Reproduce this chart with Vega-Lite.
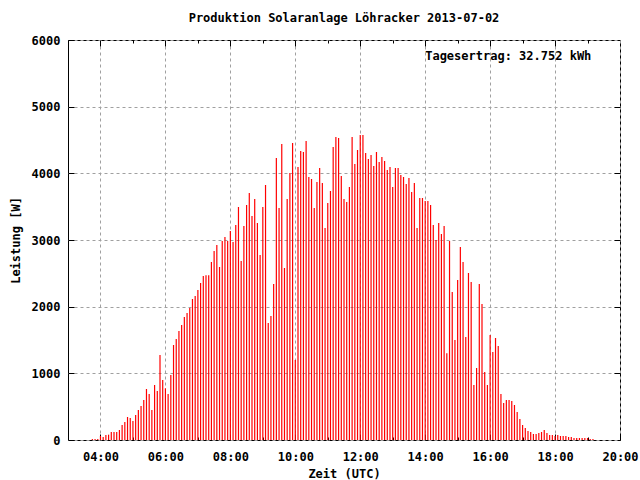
{
  "$schema": "https://vega.github.io/schema/vega-lite/v6.json",
  "width": 552,
  "height": 400,
  "autosize": {"type": "none"},
  "padding": {"left": 68, "top": 40, "right": 20, "bottom": 40},
  "background": "white",
  "title": {"text": "Produktion Solaranlage Löhracker 2013-07-02", "font": "DejaVu Sans Mono", "fontSize": 12, "fontWeight": "bold", "color": "#000", "offset": 9},
  "config": {
    "view": {"stroke": "#000", "strokeWidth": 1},
    "axis": {"labelFont": "DejaVu Sans Mono", "labelFontSize": 12, "labelFontWeight": "bold", "labelColor": "#000", "titleFont": "DejaVu Sans Mono", "titleFontSize": 12, "titleFontWeight": "bold", "titleColor": "#000", "tickColor": "#000", "tickWidth": 1, "domain": false, "gridColor": "#a0a0a0", "gridDash": [3, 3], "gridOpacity": 1, "gridWidth": 1}
  },
  "datasets": {
    "power": [
      {"t": "2013-07-02T03:45", "w": 15}, {"t": "2013-07-02T03:50", "w": 15}, {"t": "2013-07-02T03:55", "w": 15},
      {"t": "2013-07-02T04:00", "w": 60}, {"t": "2013-07-02T04:05", "w": 45}, {"t": "2013-07-02T04:10", "w": 75},
      {"t": "2013-07-02T04:15", "w": 80}, {"t": "2013-07-02T04:20", "w": 120}, {"t": "2013-07-02T04:25", "w": 120},
      {"t": "2013-07-02T04:30", "w": 120}, {"t": "2013-07-02T04:35", "w": 150}, {"t": "2013-07-02T04:40", "w": 225},
      {"t": "2013-07-02T04:45", "w": 270}, {"t": "2013-07-02T04:50", "w": 345}, {"t": "2013-07-02T04:55", "w": 330},
      {"t": "2013-07-02T05:00", "w": 285}, {"t": "2013-07-02T05:05", "w": 375}, {"t": "2013-07-02T05:10", "w": 450},
      {"t": "2013-07-02T05:15", "w": 510}, {"t": "2013-07-02T05:20", "w": 600}, {"t": "2013-07-02T05:25", "w": 765},
      {"t": "2013-07-02T05:30", "w": 690}, {"t": "2013-07-02T05:35", "w": 450}, {"t": "2013-07-02T05:40", "w": 825},
      {"t": "2013-07-02T05:45", "w": 735}, {"t": "2013-07-02T05:50", "w": 1275}, {"t": "2013-07-02T05:55", "w": 900},
      {"t": "2013-07-02T06:00", "w": 775}, {"t": "2013-07-02T06:05", "w": 690}, {"t": "2013-07-02T06:10", "w": 975},
      {"t": "2013-07-02T06:15", "w": 1425}, {"t": "2013-07-02T06:20", "w": 1515}, {"t": "2013-07-02T06:25", "w": 1635},
      {"t": "2013-07-02T06:30", "w": 1725}, {"t": "2013-07-02T06:35", "w": 1845}, {"t": "2013-07-02T06:40", "w": 1905},
      {"t": "2013-07-02T06:45", "w": 1980}, {"t": "2013-07-02T06:50", "w": 2115}, {"t": "2013-07-02T06:55", "w": 2160},
      {"t": "2013-07-02T07:00", "w": 2250}, {"t": "2013-07-02T07:05", "w": 2355}, {"t": "2013-07-02T07:10", "w": 2460},
      {"t": "2013-07-02T07:15", "w": 2470}, {"t": "2013-07-02T07:20", "w": 2470}, {"t": "2013-07-02T07:25", "w": 2670},
      {"t": "2013-07-02T07:30", "w": 2835}, {"t": "2013-07-02T07:35", "w": 2925}, {"t": "2013-07-02T07:40", "w": 2595},
      {"t": "2013-07-02T07:45", "w": 2985}, {"t": "2013-07-02T07:50", "w": 3045}, {"t": "2013-07-02T07:55", "w": 2985},
      {"t": "2013-07-02T08:00", "w": 3135}, {"t": "2013-07-02T08:05", "w": 2970}, {"t": "2013-07-02T08:10", "w": 3225},
      {"t": "2013-07-02T08:15", "w": 3495}, {"t": "2013-07-02T08:20", "w": 2685}, {"t": "2013-07-02T08:25", "w": 3210},
      {"t": "2013-07-02T08:30", "w": 3525}, {"t": "2013-07-02T08:35", "w": 3705}, {"t": "2013-07-02T08:40", "w": 3360},
      {"t": "2013-07-02T08:45", "w": 3615}, {"t": "2013-07-02T08:50", "w": 3255}, {"t": "2013-07-02T08:55", "w": 2775},
      {"t": "2013-07-02T09:00", "w": 3495}, {"t": "2013-07-02T09:05", "w": 3825}, {"t": "2013-07-02T09:10", "w": 1755},
      {"t": "2013-07-02T09:15", "w": 1860}, {"t": "2013-07-02T09:20", "w": 2340}, {"t": "2013-07-02T09:25", "w": 4230},
      {"t": "2013-07-02T09:30", "w": 3480}, {"t": "2013-07-02T09:35", "w": 4440}, {"t": "2013-07-02T09:40", "w": 2580},
      {"t": "2013-07-02T09:45", "w": 3615}, {"t": "2013-07-02T09:50", "w": 4005}, {"t": "2013-07-02T09:55", "w": 4455},
      {"t": "2013-07-02T10:00", "w": 1200}, {"t": "2013-07-02T10:05", "w": 4095}, {"t": "2013-07-02T10:10", "w": 4335},
      {"t": "2013-07-02T10:15", "w": 4320}, {"t": "2013-07-02T10:20", "w": 4485}, {"t": "2013-07-02T10:25", "w": 3945},
      {"t": "2013-07-02T10:30", "w": 3915}, {"t": "2013-07-02T10:35", "w": 3480}, {"t": "2013-07-02T10:40", "w": 3870},
      {"t": "2013-07-02T10:45", "w": 4080}, {"t": "2013-07-02T10:50", "w": 3855}, {"t": "2013-07-02T10:55", "w": 3180},
      {"t": "2013-07-02T11:00", "w": 3555}, {"t": "2013-07-02T11:05", "w": 3735}, {"t": "2013-07-02T11:10", "w": 4395},
      {"t": "2013-07-02T11:15", "w": 4545}, {"t": "2013-07-02T11:20", "w": 4530}, {"t": "2013-07-02T11:25", "w": 3960},
      {"t": "2013-07-02T11:30", "w": 3615}, {"t": "2013-07-02T11:35", "w": 3570}, {"t": "2013-07-02T11:40", "w": 3795},
      {"t": "2013-07-02T11:45", "w": 4545}, {"t": "2013-07-02T11:50", "w": 4140}, {"t": "2013-07-02T11:55", "w": 4350},
      {"t": "2013-07-02T12:00", "w": 4575}, {"t": "2013-07-02T12:05", "w": 4575}, {"t": "2013-07-02T12:10", "w": 4305},
      {"t": "2013-07-02T12:15", "w": 4215}, {"t": "2013-07-02T12:20", "w": 4275}, {"t": "2013-07-02T12:25", "w": 4110},
      {"t": "2013-07-02T12:30", "w": 4320}, {"t": "2013-07-02T12:35", "w": 4170}, {"t": "2013-07-02T12:40", "w": 4245},
      {"t": "2013-07-02T12:45", "w": 4185}, {"t": "2013-07-02T12:50", "w": 4050}, {"t": "2013-07-02T12:55", "w": 4095},
      {"t": "2013-07-02T13:00", "w": 3795}, {"t": "2013-07-02T13:05", "w": 4080}, {"t": "2013-07-02T13:10", "w": 4080},
      {"t": "2013-07-02T13:15", "w": 3975}, {"t": "2013-07-02T13:20", "w": 3945}, {"t": "2013-07-02T13:25", "w": 3840},
      {"t": "2013-07-02T13:30", "w": 3930}, {"t": "2013-07-02T13:35", "w": 3720}, {"t": "2013-07-02T13:40", "w": 3855},
      {"t": "2013-07-02T13:45", "w": 3180}, {"t": "2013-07-02T13:50", "w": 3630}, {"t": "2013-07-02T13:55", "w": 3630},
      {"t": "2013-07-02T14:00", "w": 3585}, {"t": "2013-07-02T14:05", "w": 3585}, {"t": "2013-07-02T14:10", "w": 3525},
      {"t": "2013-07-02T14:15", "w": 3225}, {"t": "2013-07-02T14:20", "w": 3000}, {"t": "2013-07-02T14:25", "w": 3255},
      {"t": "2013-07-02T14:30", "w": 3090}, {"t": "2013-07-02T14:35", "w": 3210}, {"t": "2013-07-02T14:40", "w": 1300},
      {"t": "2013-07-02T14:45", "w": 2985}, {"t": "2013-07-02T14:50", "w": 2220}, {"t": "2013-07-02T14:55", "w": 1500},
      {"t": "2013-07-02T15:00", "w": 2400}, {"t": "2013-07-02T15:05", "w": 2895}, {"t": "2013-07-02T15:10", "w": 2670},
      {"t": "2013-07-02T15:15", "w": 1545}, {"t": "2013-07-02T15:20", "w": 2505}, {"t": "2013-07-02T15:25", "w": 2370},
      {"t": "2013-07-02T15:30", "w": 825}, {"t": "2013-07-02T15:35", "w": 1080}, {"t": "2013-07-02T15:40", "w": 2340},
      {"t": "2013-07-02T15:45", "w": 2040}, {"t": "2013-07-02T15:50", "w": 1020}, {"t": "2013-07-02T15:55", "w": 825},
      {"t": "2013-07-02T16:00", "w": 1575}, {"t": "2013-07-02T16:05", "w": 1320}, {"t": "2013-07-02T16:10", "w": 1530},
      {"t": "2013-07-02T16:15", "w": 1410}, {"t": "2013-07-02T16:20", "w": 690}, {"t": "2013-07-02T16:25", "w": 555},
      {"t": "2013-07-02T16:30", "w": 600}, {"t": "2013-07-02T16:35", "w": 600}, {"t": "2013-07-02T16:40", "w": 585},
      {"t": "2013-07-02T16:45", "w": 525}, {"t": "2013-07-02T16:50", "w": 420}, {"t": "2013-07-02T16:55", "w": 315},
      {"t": "2013-07-02T17:00", "w": 225}, {"t": "2013-07-02T17:05", "w": 180}, {"t": "2013-07-02T17:10", "w": 135},
      {"t": "2013-07-02T17:15", "w": 120}, {"t": "2013-07-02T17:20", "w": 90}, {"t": "2013-07-02T17:25", "w": 90},
      {"t": "2013-07-02T17:30", "w": 105}, {"t": "2013-07-02T17:35", "w": 120}, {"t": "2013-07-02T17:40", "w": 150},
      {"t": "2013-07-02T17:45", "w": 105}, {"t": "2013-07-02T17:50", "w": 75}, {"t": "2013-07-02T17:55", "w": 75},
      {"t": "2013-07-02T18:00", "w": 60}, {"t": "2013-07-02T18:05", "w": 75}, {"t": "2013-07-02T18:10", "w": 60},
      {"t": "2013-07-02T18:15", "w": 60}, {"t": "2013-07-02T18:20", "w": 60}, {"t": "2013-07-02T18:25", "w": 45},
      {"t": "2013-07-02T18:30", "w": 45}, {"t": "2013-07-02T18:35", "w": 30}, {"t": "2013-07-02T18:40", "w": 30},
      {"t": "2013-07-02T18:45", "w": 30}, {"t": "2013-07-02T18:50", "w": 30}, {"t": "2013-07-02T18:55", "w": 30},
      {"t": "2013-07-02T19:00", "w": 30}, {"t": "2013-07-02T19:05", "w": 15}, {"t": "2013-07-02T19:10", "w": 15}
    ]
  },
  "resolve": {"axis": {"x": "independent", "y": "independent"}},
  "layer": [
    {
      "data": {"name": "power"},
      "mark": {"type": "rule", "color": "#ff0000", "strokeWidth": 1.2},
      "encoding": {
        "x": {
          "field": "t", "type": "temporal",
          "scale": {"domain": [{"year": 2013, "month": 7, "date": 2, "hours": 3}, {"year": 2013, "month": 7, "date": 2, "hours": 20}]},
          "axis": {
            "orient": "bottom", "title": "Zeit (UTC)", "format": "%H:%M", "grid": true, "tickSize": -6, "labelPadding": 17, "titlePadding": 6, "labelFlush": false, "labelOverlap": false,
            "values": [
              {"year": 2013, "month": 7, "date": 2, "hours": 4}, {"year": 2013, "month": 7, "date": 2, "hours": 6},
              {"year": 2013, "month": 7, "date": 2, "hours": 8}, {"year": 2013, "month": 7, "date": 2, "hours": 10},
              {"year": 2013, "month": 7, "date": 2, "hours": 12}, {"year": 2013, "month": 7, "date": 2, "hours": 14},
              {"year": 2013, "month": 7, "date": 2, "hours": 16}, {"year": 2013, "month": 7, "date": 2, "hours": 18},
              {"year": 2013, "month": 7, "date": 2, "hours": 20}
            ]
          }
        },
        "y": {
          "field": "w", "type": "quantitative",
          "scale": {"domain": [0, 6000], "nice": false},
          "axis": {"orient": "left", "title": "Leistung [W]", "format": "d", "values": [0, 1000, 2000, 3000, 4000, 5000, 6000], "grid": true, "tickSize": -6, "labelPadding": 14, "titlePadding": 9, "labelFlush": false, "labelOverlap": false}
        },
        "y2": {"datum": 0}
      }
    },
    {
      "data": {"values": [{"label": "Tagesertrag: 32.752 kWh"}]},
      "mark": {"type": "text", "align": "left", "baseline": "middle", "font": "DejaVu Sans Mono", "fontWeight": "bold", "fontSize": 12, "color": "#000", "dx": 0},
      "encoding": {
        "x": {
          "datum": {"year": 2013, "month": 7, "date": 2, "hours": 14}, "type": "temporal",
          "axis": {
            "orient": "top", "title": null, "labels": false, "grid": false, "tickSize": -6,
            "values": [
              {"year": 2013, "month": 7, "date": 2, "hours": 4}, {"year": 2013, "month": 7, "date": 2, "hours": 6},
              {"year": 2013, "month": 7, "date": 2, "hours": 8}, {"year": 2013, "month": 7, "date": 2, "hours": 10},
              {"year": 2013, "month": 7, "date": 2, "hours": 12}, {"year": 2013, "month": 7, "date": 2, "hours": 14},
              {"year": 2013, "month": 7, "date": 2, "hours": 16}, {"year": 2013, "month": 7, "date": 2, "hours": 18}
            ]
          }
        },
        "y": {
          "datum": 5760, "type": "quantitative",
          "axis": {"orient": "right", "title": null, "labels": false, "grid": false, "tickSize": -6, "values": [1000, 2000, 3000, 4000, 5000]}
        },
        "text": {"field": "label"}
      }
    },
    {
      "data": {"values": [{}]},
      "mark": {"type": "rule", "opacity": 0},
      "encoding": {
        "x": {
          "datum": {"year": 2013, "month": 7, "date": 2, "hours": 5}, "type": "temporal",
          "axis": {
            "orient": "bottom", "title": null, "labels": false, "grid": false, "tickSize": -3,
            "values": [
              {"year": 2013, "month": 7, "date": 2, "hours": 5}, {"year": 2013, "month": 7, "date": 2, "hours": 7},
              {"year": 2013, "month": 7, "date": 2, "hours": 9}, {"year": 2013, "month": 7, "date": 2, "hours": 11},
              {"year": 2013, "month": 7, "date": 2, "hours": 13}, {"year": 2013, "month": 7, "date": 2, "hours": 15},
              {"year": 2013, "month": 7, "date": 2, "hours": 17}, {"year": 2013, "month": 7, "date": 2, "hours": 19}
            ]
          }
        }
      }
    },
    {
      "data": {"values": [{}]},
      "mark": {"type": "rule", "opacity": 0},
      "encoding": {
        "x": {
          "datum": {"year": 2013, "month": 7, "date": 2, "hours": 5}, "type": "temporal",
          "axis": {
            "orient": "top", "title": null, "labels": false, "grid": false, "tickSize": -3,
            "values": [
              {"year": 2013, "month": 7, "date": 2, "hours": 3}, {"year": 2013, "month": 7, "date": 2, "hours": 5},
              {"year": 2013, "month": 7, "date": 2, "hours": 7}, {"year": 2013, "month": 7, "date": 2, "hours": 9},
              {"year": 2013, "month": 7, "date": 2, "hours": 11}, {"year": 2013, "month": 7, "date": 2, "hours": 13},
              {"year": 2013, "month": 7, "date": 2, "hours": 15}, {"year": 2013, "month": 7, "date": 2, "hours": 17},
              {"year": 2013, "month": 7, "date": 2, "hours": 19}
            ]
          }
        }
      }
    }
  ]
}
